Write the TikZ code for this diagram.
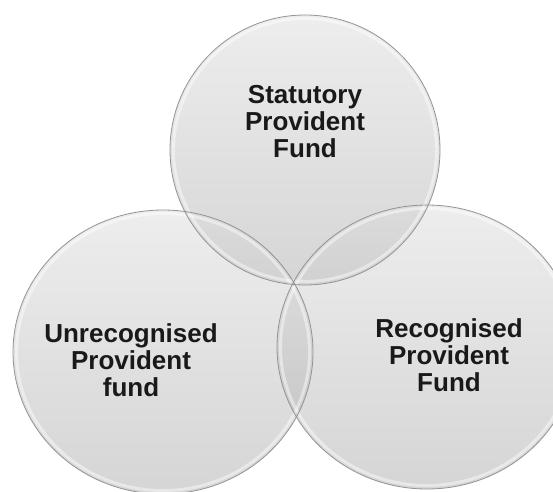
\documentclass[tikz,border=0pt]{standalone}
\usepackage{fontspec}
\setmainfont{Liberation Sans}
\usetikzlibrary{shapes.geometric}
\definecolor{bubtop}{rgb}{0.86,0.86,0.86}
\definecolor{bubbot}{rgb}{0.66,0.66,0.66}
\definecolor{rimgray}{rgb}{0.58,0.58,0.58}
\definecolor{txt}{rgb}{0.1,0.1,0.1}
\begin{document}
\begin{tikzpicture}[x=1pt,y=-1pt,
  bubble/.style={ellipse, inner sep=0pt, top color=bubtop, bottom color=bubbot, fill opacity=0.48},
  rim/.style={ellipse, inner sep=0pt, draw=rimgray, line width=0.8pt},
  glint/.style={ellipse, inner sep=0pt, draw=white, line width=3pt, draw opacity=0.45},
  lbl/.style={font=\bfseries\fontsize{26}{27}\selectfont, align=center, text=txt, inner sep=0pt}]
\useasboundingbox (0,0) rectangle (553,491);
\fill[white] (0,0) rectangle (553,491);
\clip (0,0) rectangle (553,491);
% circles
\node[bubble, minimum width=270pt, minimum height=270pt] (T) at (305,150) {};
\node[bubble, minimum width=300pt, minimum height=284pt] (L) at (163,352) {};
\node[bubble, minimum width=300pt, minimum height=284pt] (R) at (427,347) {};
% inner highlights
\node[glint, minimum width=263pt, minimum height=263pt] (Tg) at (305,150) {};
\node[glint, minimum width=293pt, minimum height=277pt] (Lg) at (163,352) {};
\node[glint, minimum width=293pt, minimum height=277pt] (Rg) at (427,347) {};
% rims
\node[rim, minimum width=270pt, minimum height=270pt] (Tr) at (305,150) {};
\node[rim, minimum width=300pt, minimum height=284pt] (Lr) at (163,352) {};
\node[rim, minimum width=300pt, minimum height=284pt] (Rr) at (427,347) {};
% text
\node[lbl] (Tt) at (305,122) {Statutory\\Provident\\Fund};
\node[lbl] (Lt) at (131,360) {Unrecognised\\Provident\\fund};
\node[lbl] (Rt) at (449,355) {Recognised\\Provident\\Fund};
\end{tikzpicture}
\end{document}
